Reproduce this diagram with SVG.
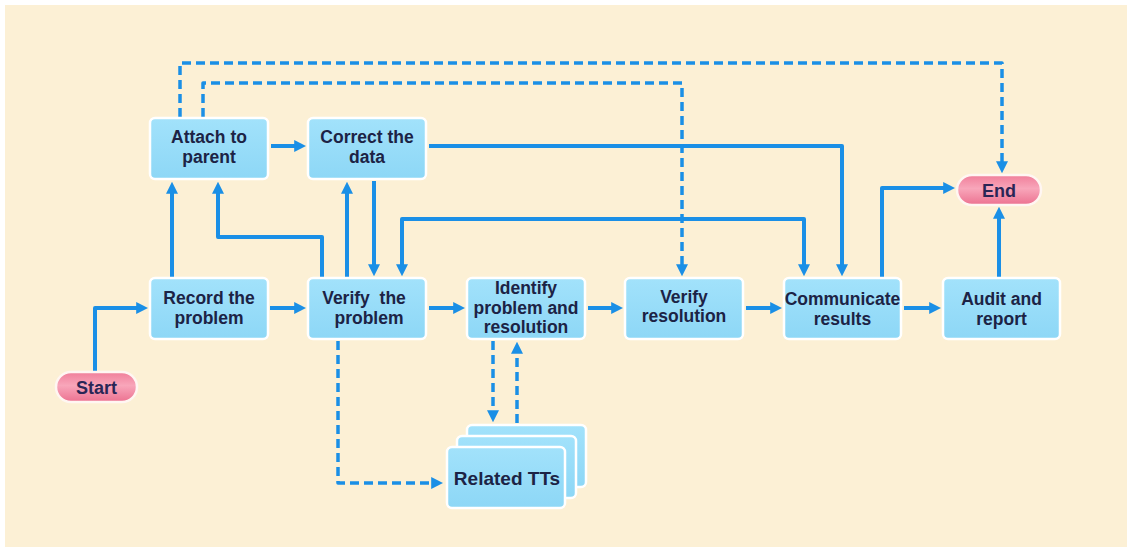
<svg xmlns="http://www.w3.org/2000/svg" width="1131" height="551" viewBox="0 0 1131 551">
  <style>
    .box { fill: url(#boxFill); stroke: #ffffff; stroke-width: 2.5; }
    .pill { fill: url(#pillFill); stroke: #fff6f2; stroke-width: 2.5; }
    .lbl { font-family: "Liberation Sans", Arial, sans-serif; font-weight: bold; font-size: 17.5px; fill: #1c2345; text-anchor: middle; }
    .plbl { font-family: "Liberation Sans", Arial, sans-serif; font-weight: bold; font-size: 18px; fill: #2a2656; text-anchor: middle; }
    .flow { fill: none; stroke: #1a8fe6; stroke-width: 4; stroke-linejoin: round; }
    .dash { fill: none; stroke: #1a8fe6; stroke-width: 3.5; stroke-dasharray: 9 5; stroke-linejoin: round; }
  </style>
  <defs>
    <linearGradient id="boxFill" x1="0" y1="0" x2="0" y2="1">
      <stop offset="0" stop-color="#a2e2fb"/>
      <stop offset="1" stop-color="#8dd7f6"/>
    </linearGradient>
    <linearGradient id="pillFill" x1="0" y1="0" x2="0" y2="1">
      <stop offset="0" stop-color="#f07e9a"/>
      <stop offset="0.45" stop-color="#f8a6ba"/>
      <stop offset="1" stop-color="#ec7190"/>
    </linearGradient>
    <marker id="arrow" viewBox="0 0 10 10" refX="4" refY="5" markerWidth="12" markerHeight="12" markerUnits="userSpaceOnUse" orient="auto-start-reverse">
      <path d="M0,0 L10,5 L0,10 z" fill="#1a8fe6"/>
    </marker>
  </defs>

  <!-- backdrop -->
  <rect x="0" y="0" width="1131" height="551" fill="#ffffff"/>
  <rect x="5" y="5" width="1122" height="542" fill="#fcf0d5"/>

  <!-- connectors -->
  <g id="connectors">
    <path class="flow" d="M95,371 V308 H141" marker-end="url(#arrow)"/>
    <path class="flow" d="M270,308 H299" marker-end="url(#arrow)"/>
    <path class="flow" d="M429,308 H458" marker-end="url(#arrow)"/>
    <path class="flow" d="M588,308 H616" marker-end="url(#arrow)"/>
    <path class="flow" d="M746,308 H775" marker-end="url(#arrow)"/>
    <path class="flow" d="M904,308 H934" marker-end="url(#arrow)"/>
    <path class="flow" d="M172,277 V189" marker-end="url(#arrow)"/>
    <path class="flow" d="M322,277 V237 H218 V189" marker-end="url(#arrow)"/>
    <path class="flow" d="M347,277 V189" marker-end="url(#arrow)"/>
    <path class="flow" d="M374,181 V269" marker-end="url(#arrow)"/>
    <path class="flow" d="M271,146 H299" marker-end="url(#arrow)"/>
    <path class="flow" d="M429,146 H842 V269" marker-end="url(#arrow)"/>
    <path class="flow" d="M804,269 V219 H402 V269" marker-start="url(#arrow)" marker-end="url(#arrow)"/>
    <path class="flow" d="M882,277 V188 H948" marker-end="url(#arrow)"/>
    <path class="flow" d="M999,277 V214" marker-end="url(#arrow)"/>
    <path class="dash" d="M180,117 V63 H1002 V166" marker-end="url(#arrow)"/>
    <path class="dash" d="M203,117 V83 H682 V269" marker-end="url(#arrow)"/>
    <path class="dash" d="M338,341 V483 H436" marker-end="url(#arrow)"/>
    <path class="dash" d="M493,341 V415" marker-end="url(#arrow)"/>
    <path class="dash" d="M517,423 V349" marker-end="url(#arrow)"/>
  </g>

  <!-- nodes -->
  <g id="start">
    <rect class="pill" x="56" y="372" width="81" height="30" rx="15"/>
    <text class="plbl" x="96.5" y="393.5">Start</text>
  </g>
  <g id="end">
    <rect class="pill" x="957" y="175" width="84" height="30" rx="15"/>
    <text class="plbl" x="999" y="196.5">End</text>
  </g>
  <g id="attach">
    <rect class="box" x="150" y="118" width="118" height="61" rx="5"/>
    <text class="lbl" x="209" y="143">Attach to</text>
    <text class="lbl" x="209" y="163">parent</text>
  </g>
  <g id="correct">
    <rect class="box" x="308" y="118" width="118" height="61" rx="5"/>
    <text class="lbl" x="367" y="143">Correct the</text>
    <text class="lbl" x="367" y="163">data</text>
  </g>
  <g id="record">
    <rect class="box" x="150" y="278" width="118" height="61" rx="5"/>
    <text class="lbl" x="209" y="304">Record the</text>
    <text class="lbl" x="209" y="324">problem</text>
  </g>
  <g id="verify-problem">
    <rect class="box" x="308" y="278" width="118" height="61" rx="5"/>
    <text class="lbl" x="364" y="304" xml:space="preserve">Verify  the</text>
    <text class="lbl" x="369" y="324">problem</text>
  </g>
  <g id="identify">
    <rect class="box" x="467" y="278" width="118" height="61" rx="5"/>
    <text class="lbl" x="526" y="294">Identify</text>
    <text class="lbl" x="526" y="313.5">problem and</text>
    <text class="lbl" x="526" y="333">resolution</text>
  </g>
  <g id="verify-resolution">
    <rect class="box" x="625" y="278" width="118" height="61" rx="5"/>
    <text class="lbl" x="684" y="303">Verify</text>
    <text class="lbl" x="684" y="322">resolution</text>
  </g>
  <g id="communicate">
    <rect class="box" x="784" y="278" width="117" height="61" rx="5"/>
    <text class="lbl" x="842.5" y="305">Communicate</text>
    <text class="lbl" x="842.5" y="325">results</text>
  </g>
  <g id="audit">
    <rect class="box" x="943" y="278" width="117" height="61" rx="5"/>
    <text class="lbl" x="1001.5" y="305">Audit and</text>
    <text class="lbl" x="1001.5" y="325">report</text>
  </g>
  <g id="related">
    <rect class="box" x="467" y="425" width="119" height="62" rx="5"/>
    <rect class="box" x="457" y="436" width="119" height="62" rx="5"/>
    <rect class="box" x="447" y="447" width="118" height="61" rx="5"/>
    <text class="lbl" x="507" y="485" style="font-size:19px">Related TTs</text>
  </g>
</svg>
